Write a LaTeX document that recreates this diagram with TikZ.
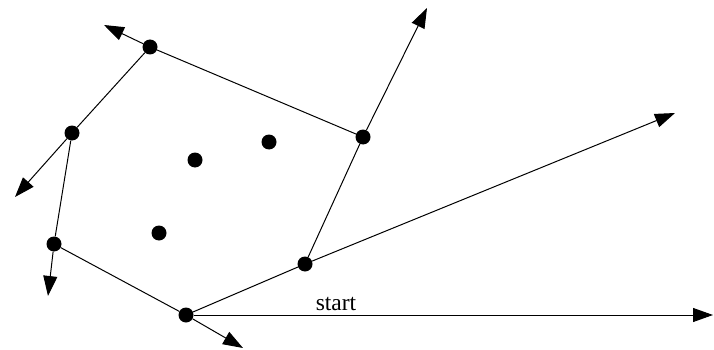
\documentclass[tikz,border=0pt]{standalone}
\usepackage{fontspec}
\setmainfont{Liberation Serif}
\usetikzlibrary{arrows.meta}
\begin{document}
\begin{tikzpicture}[x=1pt,y=-1pt,
  dot/.style={circle,fill=black,inner sep=0pt,minimum size=15pt},
  edge/.style={line width=1pt},
  ray/.style={line width=1pt,-{Triangle[length=20pt,width=14pt]}}]
\useasboundingbox (0,0) rectangle (714,350);
\node[dot] (p1) at (186,315) {};
\node[dot] (p2) at (305,264) {};
\node[dot] (p3) at (363,137) {};
\node[dot] (p4) at (150,47) {};
\node[dot] (p5) at (72,133) {};
\node[dot] (p6) at (54,244) {};
\node[dot] (q1) at (195,160) {};
\node[dot] (q2) at (269,142) {};
\node[dot] (q3) at (159,233) {};
\coordinate (e0) at (713,315);
\coordinate (e1) at (243,348);
\coordinate (e2) at (675,113);
\coordinate (e3) at (427,8);
\coordinate (e4) at (104,25);
\coordinate (e5) at (15,197);
\coordinate (e6) at (48,296);
\draw[edge] (p1) -- (p2);
\draw[edge] (p2) -- (p3);
\draw[edge] (p3) -- (p4);
\draw[edge] (p4) -- (p5);
\draw[edge] (p5) -- (p6);
\draw[edge] (p6) -- (p1);
\draw[ray] (p1) -- (e0);
\draw[ray] (p1) -- (e1);
\draw[ray] (p2) -- (e2);
\draw[ray] (p3) -- (e3);
\draw[ray] (p4) -- (e4);
\draw[ray] (p5) -- (e5);
\draw[ray] (p6) -- (e6);
\node[font=\fontsize{23.5}{26}\selectfont,anchor=base,inner sep=0pt] (lbl) at (336,310) {start};
\end{tikzpicture}
\end{document}
